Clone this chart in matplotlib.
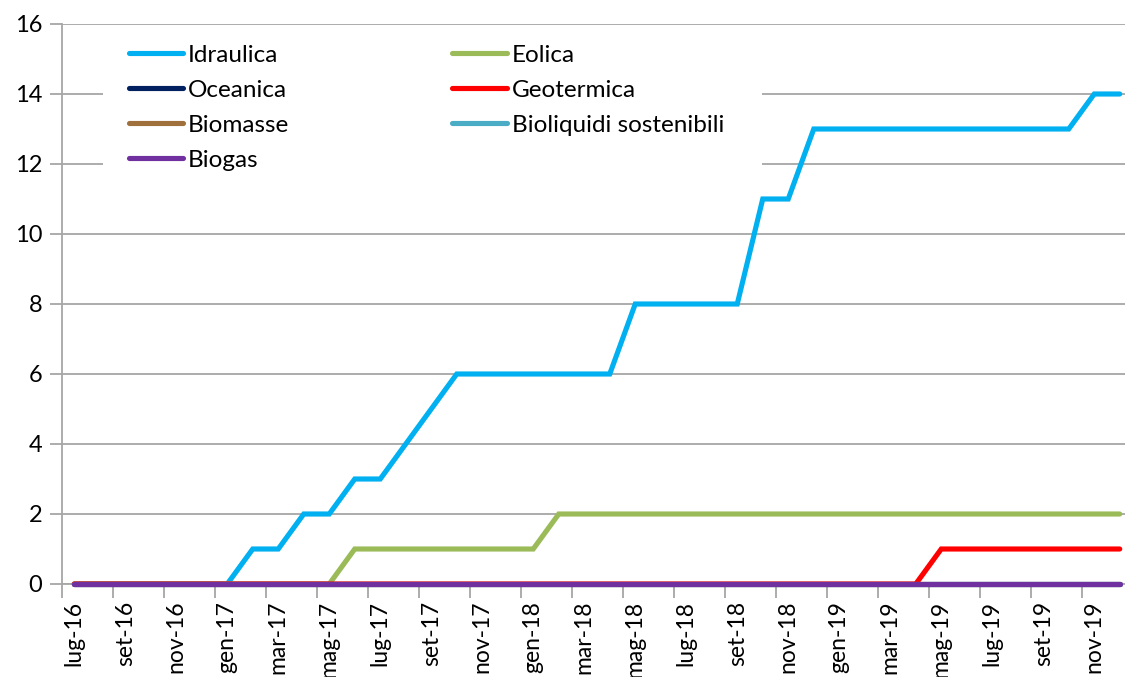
import matplotlib
matplotlib.use("Agg")
import matplotlib.pyplot as plt
from matplotlib.patches import Rectangle
import numpy as np

plt.rcParams['font.family'] = ['Lato', 'DejaVu Sans']

months = ["lug-16", "ago-16", "set-16", "ott-16", "nov-16", "dic-16",
          "gen-17", "feb-17", "mar-17", "apr-17", "mag-17", "giu-17",
          "lug-17", "ago-17", "set-17", "ott-17", "nov-17", "dic-17",
          "gen-18", "feb-18", "mar-18", "apr-18", "mag-18", "giu-18",
          "lug-18", "ago-18", "set-18", "ott-18", "nov-18", "dic-18",
          "gen-19", "feb-19", "mar-19", "apr-19", "mag-19", "giu-19",
          "lug-19", "ago-19", "set-19", "ott-19", "nov-19", "dic-19"]

idraulica = [0, 0, 0, 0, 0, 0, 0, 1, 1, 2, 2, 3, 3, 4, 5, 6, 6, 6, 6, 6, 6,
             6, 8, 8, 8, 8, 8, 11, 11, 13, 13, 13, 13, 13, 13, 13, 13, 13, 13,
             13, 14, 14]
eolica = [0, 0, 0, 0, 0, 0, 0, 0, 0, 0, 0, 1, 1, 1, 1, 1, 1, 1, 1, 2, 2,
          2, 2, 2, 2, 2, 2, 2, 2, 2, 2, 2, 2, 2, 2, 2, 2, 2, 2, 2, 2, 2]
oceanica = [0] * 42
geotermica = [0] * 34 + [1] * 8
biomasse = [0] * 42
bioliquidi = [0] * 42
biogas = [0] * 42

series = [
    ("Idraulica", idraulica, "#00B0F0"),
    ("Eolica", eolica, "#9BBB59"),
    ("Oceanica", oceanica, "#002060"),
    ("Geotermica", geotermica, "#FF0000"),
    ("Biomasse", biomasse, "#A0703C"),
    ("Bioliquidi sostenibili", bioliquidi, "#4BACC6"),
    ("Biogas", biogas, "#7030A0"),
]

W, H = 1125, 677
fig = plt.figure(figsize=(W / 100, H / 100), dpi=100)
left_px, right_px = 61.5, 1132.5
ax = fig.add_axes([left_px / W, (H - 584) / H, (right_px - left_px) / W, (584 - 24) / H])

x = np.arange(len(months))
handles = {}
for name, vals, col in series:
    ln, = ax.plot(x, vals, color=col, lw=3.7, solid_capstyle='round',
                  solid_joinstyle='miter', label=name, clip_on=False, zorder=3)
    handles[name] = ln

ax.set_xlim(-0.5, len(months) - 0.5)
ax.set_ylim(0, 16)
ax.set_yticks(np.arange(0, 17, 2))
ax.yaxis.grid(True, color="#A6A6A6", lw=1.3)
ax.set_axisbelow(True)

# x ticks at category boundaries, labels at category centers
ax.set_xticks(np.arange(-0.5, len(months), 2))
ax.set_xticklabels([])
ax.set_xticks(x[::2], minor=True)
ax.set_xticklabels(months[::2], minor=True, rotation=90)
ax.tick_params(axis='x', which='major', length=10, width=1.3, color="#A6A6A6")
ax.tick_params(axis='x', which='minor', length=0, pad=12, labelsize=16.5)
ax.tick_params(axis='y', length=9, width=1.3, color="#A6A6A6", labelsize=17,
               pad=5)

for s in ["top", "right"]:
    ax.spines[s].set_visible(False)
for s in ["left", "bottom"]:
    ax.spines[s].set_color("#A6A6A6")
    ax.spines[s].set_linewidth(1.3)

# white legend area covering the gridlines (as in the reference)
ax.add_patch(Rectangle((103 / W, 1 - 185 / H), (762 - 103) / W, (185 - 30) / H,
                       transform=fig.transFigure, facecolor="white",
                       edgecolor="none", zorder=1))

order = ["Idraulica", "Oceanica", "Biomasse", "Biogas",
         "Eolica", "Geotermica", "Bioliquidi sostenibili"]
axw = right_px - left_px
leg = ax.legend([handles[n] for n in order], order, ncol=2,
                loc="upper left", bbox_to_anchor=((108 - left_px) / axw, 1.0),
                frameon=False, fontsize=17.5, handlelength=2.25,
                handletextpad=0.2, columnspacing=6.7, labelspacing=0.58,
                borderpad=0.35)

fig.savefig("out.png", dpi=100)
